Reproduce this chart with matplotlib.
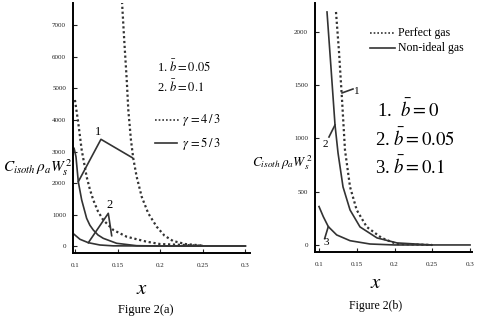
import matplotlib
matplotlib.use('Agg')
import matplotlib.pyplot as plt

plt.rcParams['font.family'] = ['Liberation Serif', 'DejaVu Serif']
plt.rcParams['mathtext.fontset'] = 'stix'

# ---- Figure 2(a): gamma = 4/3 (dotted) and 5/3 (solid), b = 0.05 and 0.1
a_dot1_x = [0.1552, 0.1580, 0.1607, 0.1626, 0.1657, 0.1684, 0.1724, 0.1783, 0.1860, 0.1959, 0.205, 0.215, 0.23, 0.25]
a_dot1_y = [7750, 6450, 5300, 4317, 3365, 2784, 2200, 1565, 1038, 613, 330, 160, 60, 15]
a_dot2_x = [0.1, 0.1039, 0.1079, 0.1137, 0.1175, 0.1215, 0.1270, 0.1332, 0.1450, 0.1607, 0.1841, 0.1998, 0.25]
a_dot2_y = [4635, 3905, 3048, 2200, 1800, 1460, 1100, 825, 508, 295, 137, 63, 10]
a_sol1_x = [0.099, 0.1012, 0.1039, 0.1079, 0.1137, 0.1175, 0.1215, 0.1270, 0.1332, 0.1489, 0.1724, 0.2, 0.3]
a_sol1_y = [3100, 2833, 2041, 1460, 879, 660, 508, 350, 244, 86, 10, 0, 0]
a_sol2_x = [0.099, 0.1059, 0.1157, 0.1293, 0.145, 0.2, 0.3]
a_sol2_y = [371, 213, 105, 32, 5, 0, 0]
a_lab1_x = [0.1039, 0.1305, 0.1673]
a_lab1_y = [2041, 3387, 2803]
a_lab2_x = [0.1157, 0.1391, 0.1431]
a_lab2_y = [105, 1038, 327]

# ---- Figure 2(b): perfect gas vs non-ideal gas
b_dot_x = [0.1225, 0.1265, 0.1305, 0.1344, 0.1411, 0.1499, 0.1632, 0.1830, 0.2029, 0.2497]
b_dot_y = [2184, 1809, 1359, 890, 544, 328, 169, 66, 9, 0]
b_sol2_x = [0.1106, 0.1159, 0.1212, 0.1252, 0.1318, 0.1411, 0.1543, 0.1768, 0.2033, 0.2497]
b_sol2_y = [2184, 1659, 1125, 862, 544, 328, 169, 66, 19, 0]
b_sol3_x = [0.1, 0.1057, 0.1123, 0.1234, 0.1411, 0.1675, 0.2, 0.3]
b_sol3_y = [360, 265, 172, 94, 40, 9, 0, 0]
b_lab1_x = [0.1305, 0.145]
b_lab1_y = [1425, 1462]
b_lab2_x = [0.1212, 0.1132]
b_lab2_y = [1125, 1012]
b_lab3_x = [0.1123, 0.1075]
b_lab3_y = [172, 60]

xticks = [0.1, 0.15, 0.2, 0.25, 0.3]
xticklabels = ['0.1', '0.15', '0.2', '0.25', '0.3']
a_yticks = [0, 1000, 2000, 3000, 4000, 5000, 6000, 7000]
b_yticks = [0, 500, 1000, 1500, 2000]

W, H = 480, 317
fig = plt.figure(figsize=(4.8, 3.17), dpi=100)

def px(x, y):
    return x / W, 1 - y / H

ax1 = fig.add_axes([73 / W, 64 / H, 177 / W, 250 / H])
ax2 = fig.add_axes([315 / W, 65 / H, 157 / W, 249 / H])

lw = 1.2
dot = (0, (1, 1.2))
ax1.plot(a_dot1_x, a_dot1_y, color='#333333', ls=dot, lw=1.6)
ax1.plot(a_dot2_x, a_dot2_y, color='#333333', ls=dot, lw=1.6)
ax1.plot(a_sol1_x, a_sol1_y, color='#333333', lw=lw)
ax1.plot(a_sol2_x, a_sol2_y, color='#333333', lw=lw)
ax1.plot(a_lab1_x, a_lab1_y, color='#333333', lw=lw)
ax1.plot(a_lab2_x, a_lab2_y, color='#333333', lw=lw)
ax1.text(0.1274, 3630, '1', fontsize=9, ha='center', va='center')
ax1.text(0.1403, 1300, '2', fontsize=9, ha='center', va='center')
ax1.set_xlim(0.0977, 0.3054)
ax1.set_ylim(-222, 7714)
ax1.set_yticks(a_yticks)
ax1.set_yticklabels([str(v) for v in a_yticks])

ax2.plot(b_dot_x, b_dot_y, color='#333333', ls=dot, lw=1.6)
ax2.plot(b_sol2_x, b_sol2_y, color='#333333', lw=lw)
ax2.plot(b_sol3_x, b_sol3_y, color='#333333', lw=lw)
ax2.plot(b_lab1_x, b_lab1_y, color='#333333', lw=lw)
ax2.plot(b_lab2_x, b_lab2_y, color='#333333', lw=lw)
ax2.plot(b_lab3_x, b_lab3_y, color='#333333', lw=lw)
ax2.text(0.1503, 1443, '1', fontsize=8, ha='center', va='center')
ax2.text(0.108, 937, '2', fontsize=8, ha='center', va='center')
ax2.text(0.109, 25, '3', fontsize=8, ha='center', va='center')
ax2.set_xlim(0.0947, 0.3026)
ax2.set_ylim(-66, 2268)
ax2.set_yticks(b_yticks)
ax2.set_yticklabels([str(v) for v in b_yticks])

for ax in (ax1, ax2):
    ax.set_xticks(xticks)
    ax.set_xticklabels(xticklabels)
    ax.spines['top'].set_visible(False)
    ax.spines['right'].set_visible(False)
    ax.spines['left'].set_linewidth(1.4)
    ax.spines['bottom'].set_linewidth(1.4)
    ax.tick_params(direction='in', length=3, width=0.8, labelsize=5, colors='#222222')
    ax.tick_params(axis='x', pad=7)
    ax.tick_params(axis='y', pad=5)

# left panel annotations
fig.text(*px(157, 67), r'1. $\bar{b} = 0.05$', fontsize=9, va='center')
fig.text(*px(157, 87), r'2. $\bar{b} = 0.1$', fontsize=9, va='center')
fig.lines.append(plt.Line2D([155 / W, 179 / W], [1 - 120 / H, 1 - 120 / H], transform=fig.transFigure,
                            color='#333333', ls=dot, lw=1.2))
fig.lines.append(plt.Line2D([155 / W, 177 / W], [1 - 143 / H, 1 - 143 / H], transform=fig.transFigure,
                            color='#333333', lw=1.2))
fig.text(*px(182, 120), r'$\gamma\,=4\,/\,3$', fontsize=9, va='center')
fig.text(*px(182, 143), r'$\gamma\,=5\,/\,3$', fontsize=9, va='center')
fig.text(*px(38, 168), r'$C_{isoth}\,\rho_a W_s^{\,2}$', fontsize=11, ha='center', va='center')
fig.text(*px(142, 290), r'$x$', fontsize=15, ha='center', va='center')
fig.text(*px(146, 310), 'Figure 2(a)', fontsize=9, ha='center', va='center')

# right panel annotations
fig.lines.append(plt.Line2D([370 / W, 395 / W], [1 - 33 / H, 1 - 33 / H], transform=fig.transFigure,
                            color='#333333', ls=dot, lw=1.2))
fig.lines.append(plt.Line2D([370 / W, 395 / W], [1 - 48 / H, 1 - 48 / H], transform=fig.transFigure,
                            color='#333333', lw=1.2))
fig.text(*px(398, 33), 'Perfect gas', fontsize=8.5, va='center')
fig.text(*px(398, 48), 'Non-ideal gas', fontsize=8.5, va='center')
fig.text(*px(377, 110), r'1.  $\bar{b} = 0$', fontsize=13.5, va='center')
fig.text(*px(375, 139), r'2. $\bar{b} = 0.05$', fontsize=13.5, va='center')
fig.text(*px(375, 167), r'3. $\bar{b} = 0.1$', fontsize=13.5, va='center')
fig.text(*px(283, 163), r'$C_{isoth}\,\rho_a W_s^{\,2}$', fontsize=9.5, ha='center', va='center')
fig.text(*px(376, 283), r'$x$', fontsize=15, ha='center', va='center')
fig.text(*px(376, 306), 'Figure 2(b)', fontsize=8.5, ha='center', va='center')

fig.savefig('out.png', dpi=100)
